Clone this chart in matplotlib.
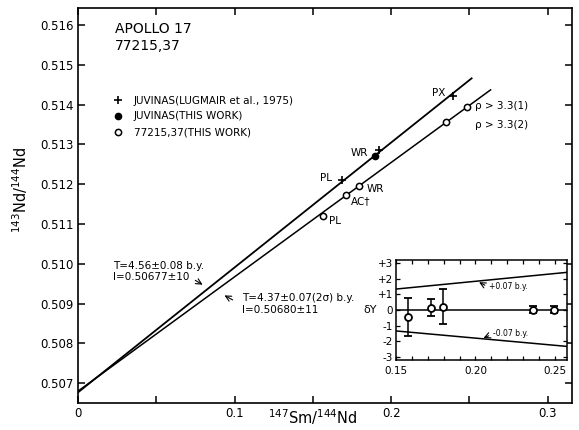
import matplotlib
matplotlib.use("Agg")
import matplotlib.pyplot as plt
from matplotlib.ticker import MultipleLocator, FixedLocator, FixedFormatter

plt.rcParams["font.family"] = ["DejaVu Sans"]
plt.rcParams["mathtext.default"] = "regular"

# ---- data ----
# Juvinas, Lugmair et al. 1975 (crosses)
lug_x = [0.1684, 0.1924, 0.2393]
lug_y = [0.51211, 0.51286, 0.51422]
lug_lab = ["PL", "WR", "PX"]

# Juvinas, this work (filled dot)
juv_x = [0.1897]
juv_y = [0.51271]

# 77215,37 this work (open circles)
s77_x = [0.1562, 0.1713, 0.1794, 0.2352, 0.2486]
s77_y = [0.51120, 0.51173, 0.51195, 0.51356, 0.51394]
s77_lab = ["PL", "AC\u2020", "WR", "\u03c1 > 3.3(2)", "\u03c1 > 3.3(1)"]

# isochron lines
juv_line_x = [0.0, 0.2514]
juv_line_y = [0.50677, 0.51466]
s77_line_x = [0.0, 0.2635]
s77_line_y = [0.50680, 0.51437]

# inset: deviations from the 77215 isochron
dev_x = [0.1576, 0.1723, 0.1793, 0.2366, 0.2494]
dev_y = [-0.45, 0.16, 0.21, 0.03, 0.03]
dev_err = [1.2, 0.55, 1.13, 0.22, 0.22]
env_x = [0.15, 0.2577]
env_hi = [1.34, 2.41]
env_lo = [-1.34, -2.33]

yticks = [0.507, 0.508, 0.509, 0.510, 0.511, 0.512, 0.513, 0.514, 0.515, 0.516]
ytick_labels = ["0.507", "0.508", "0.509", "0.510", "0.511", "0.512",
                "0.513", "0.514", "0.515", "0.516"]
xticks = [0, 0.1, 0.2, 0.3]
xtick_labels = ["0", "0.1", "0.2", "0.3"]

fig = plt.figure(figsize=(5.79, 4.30), dpi=100)
ax = fig.add_axes([78 / 579, 27 / 430, 494 / 579, 395 / 430])

ax.plot(juv_line_x, juv_line_y, color="black", lw=1.3)
ax.plot(s77_line_x, s77_line_y, color="black", lw=1.1)

h_lug, = ax.plot(lug_x, lug_y, ls="none", marker="+", ms=6, mew=1.2, color="black")
h_juv, = ax.plot(juv_x, juv_y, ls="none", marker="o", ms=4.5, color="black")
h_s77, = ax.plot(s77_x, s77_y, ls="none", marker="o", ms=4.5, mfc="white",
                 mec="black", mew=1.1)

ax.set_xlim(0, 0.3155)
ax.set_ylim(0.506503, 0.516427)
ax.xaxis.set_major_locator(FixedLocator(xticks))
ax.xaxis.set_major_formatter(FixedFormatter(xtick_labels))
ax.xaxis.set_minor_locator(MultipleLocator(0.05))
ax.yaxis.set_major_locator(FixedLocator(yticks))
ax.yaxis.set_major_formatter(FixedFormatter(ytick_labels))
ax.tick_params(which="both", direction="in", top=True, right=True,
               length=5, width=1.1, labelsize=8.5, pad=3)
for s in ax.spines.values():
    s.set_linewidth(1.2)

ax.set_xlabel("$^{147}$Sm/$^{144}$Nd", fontsize=10.5)
ax.xaxis.set_label_coords(0.475, -0.010)
ax.set_ylabel("$^{143}$Nd/$^{144}$Nd", fontsize=10.5)
ax.yaxis.set_label_coords(-0.098, 0.54)

# title block
ax.text(0.0236, 0.51607, "APOLLO 17\n77215,37", fontsize=10, va="top",
        ha="left", linespacing=1.25)

# point labels
lug_pos = [(0.1584, 0.51216), (0.1800, 0.51278), (0.2305, 0.51429)]
for lab, (px, py) in zip(lug_lab, lug_pos):
    ax.text(px, py, lab, fontsize=7.5, ha="center", va="center")
s77_pos = [(0.1641, 0.51108, "center"), (0.1807, 0.51158, "center"),
           (0.1897, 0.51188, "center"), (0.2535, 0.51349, "left"),
           (0.2535, 0.51397, "left")]
for lab, (px, py, ha) in zip(s77_lab, s77_pos):
    ax.text(px, py, lab, fontsize=7.5, ha=ha, va="center")

# isochron age annotations
ax.text(0.0224, 0.50981, "T=4.56\u00b10.08 b.y.\nI=0.50677\u00b110", fontsize=7.5,
        ha="left", va="center", linespacing=1.2)
ax.annotate("", xy=(0.0811, 0.50944), xytext=(0.0734, 0.50962),
            arrowprops=dict(arrowstyle="->", lw=0.8, color="black"))
ax.text(0.1047, 0.50899, "T=4.37\u00b10.07(2\u03c3) b.y.\nI=0.50680\u00b111", fontsize=7.5,
        ha="left", va="center", linespacing=1.2)
ax.annotate("", xy=(0.0920, 0.50924), xytext=(0.1003, 0.50906),
            arrowprops=dict(arrowstyle="->", lw=0.8, color="black"))

ax.legend([h_lug, h_juv, h_s77],
          ["JUVINAS(LUGMAIR et al., 1975)", "JUVINAS(THIS WORK)",
           "77215,37(THIS WORK)"],
          loc="upper left", bbox_to_anchor=(0.0709, 0.778), frameon=False,
          fontsize=7.5, handlelength=0.9, handletextpad=1.1,
          labelspacing=0.55, borderpad=0, borderaxespad=0, numpoints=1)

# ---- inset ----
ax2 = fig.add_axes([396 / 579, 70 / 430, 171 / 579, 100 / 430])
ax2.plot(env_x, env_hi, color="black", lw=1.1)
ax2.plot(env_x, env_lo, color="black", lw=1.1)
ax2.axhline(0, color="black", lw=1.1)
ax2.errorbar(dev_x, dev_y, yerr=dev_err, fmt="o", ms=5, mfc="white",
             mec="black", mew=1.3, ecolor="black", elinewidth=1.1,
             capsize=3, capthick=1.1, zorder=3)
ax2.set_xlim(0.15, 0.2577)
ax2.set_ylim(-3.2, 3.2)
ax2.xaxis.set_major_locator(FixedLocator([0.15, 0.20, 0.25]))
ax2.xaxis.set_major_formatter(FixedFormatter(["0.15", "0.20", "0.25"]))
ax2.xaxis.set_minor_locator(MultipleLocator(0.01))
ax2.yaxis.set_major_locator(FixedLocator([-3, -2, -1, 0, 1, 2, 3]))
ax2.yaxis.set_major_formatter(FixedFormatter(["-3", "-2", "-1", "0", "+1", "+2", "+3"]))
ax2.tick_params(which="both", direction="in", top=True, right=True,
                length=3, width=0.9, labelsize=7.5, pad=2)
ax2.tick_params(axis="x", pad=4)
for s in ax2.spines.values():
    s.set_linewidth(1.1)
ax2.text(-0.11, 0.5, "\u03b4Y", transform=ax2.transAxes, fontsize=8,
         ha="right", va="center")

ax2.text(0.2085, 1.48, "+0.07 b.y.", fontsize=5.5, ha="left", va="center")
ax2.annotate("", xy=(0.2008, 1.86), xytext=(0.2075, 1.50),
             arrowprops=dict(arrowstyle="->", lw=0.8, color="black"))
ax2.text(0.2110, -1.52, "-0.07 b.y.", fontsize=5.5, ha="left", va="center")
ax2.annotate("", xy=(0.2035, -1.86), xytext=(0.2100, -1.58),
             arrowprops=dict(arrowstyle="->", lw=0.8, color="black"))

fig.savefig("out.png", dpi=100)
